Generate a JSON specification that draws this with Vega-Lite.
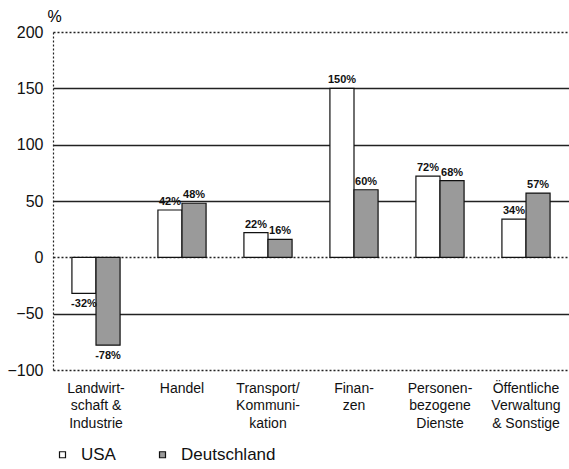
{
  "$schema": "https://vega.github.io/schema/vega-lite/v6.json",
  "width": 516,
  "height": 338,
  "autosize": "none",
  "padding": {"left": 53, "top": 32, "right": 0, "bottom": 99},
  "background": "white",
  "config": {
    "font": "Liberation Sans",
    "view": {"stroke": null}
  },
  "data": {
    "values": [
      {"sector": "Landwirt-|schaft &|Industrie", "land": "USA", "value": -32},
      {"sector": "Landwirt-|schaft &|Industrie", "land": "Deutschland", "value": -78},
      {"sector": "Handel", "land": "USA", "value": 42},
      {"sector": "Handel", "land": "Deutschland", "value": 48},
      {"sector": "Transport/|Kommuni-|kation", "land": "USA", "value": 22},
      {"sector": "Transport/|Kommuni-|kation", "land": "Deutschland", "value": 16},
      {"sector": "Finan-|zen", "land": "USA", "value": 150},
      {"sector": "Finan-|zen", "land": "Deutschland", "value": 60},
      {"sector": "Personen-|bezogene|Dienste", "land": "USA", "value": 72},
      {"sector": "Personen-|bezogene|Dienste", "land": "Deutschland", "value": 68},
      {"sector": "Öffentliche|Verwaltung|& Sonstige", "land": "USA", "value": 34},
      {"sector": "Öffentliche|Verwaltung|& Sonstige", "land": "Deutschland", "value": 57}
    ]
  },
  "transform": [{"calculate": "datum.value + '%'", "as": "lbl"}],
  "encoding": {
    "x": {
      "field": "sector", "type": "nominal", "sort": null,
      "scale": {"paddingInner": 0.44, "paddingOuter": 0.22},
      "axis": {
        "title": null, "domain": false, "ticks": false, "labelAngle": 0,
        "labelExpr": "split(datum.label, '|')",
        "labelFontSize": 14, "labelLineHeight": 17.5, "labelPadding": 11,
        "labelColor": "#111", "labelBaseline": "top"
      }
    },
    "xOffset": {"field": "land", "type": "nominal", "sort": ["USA", "Deutschland"]},
    "y": {
      "field": "value", "type": "quantitative",
      "scale": {"domain": [-100, 200], "nice": false, "zero": false},
      "axis": {
        "values": [-100, -50, 0, 50, 100, 150, 200],
        "title": "%", "titleAngle": 0, "titleAlign": "left", "titleBaseline": "bottom",
        "titleX": -6, "titleY": -8, "titleFontSize": 16, "titleFontWeight": "normal",
        "ticks": false, "labelPadding": 10, "labelFontSize": 16, "labelColor": "#111",
        "domainColor": "#222", "domainDash": [2, 2], "domainWidth": 1.2,
        "grid": true, "gridColor": "#222", "gridWidth": 1.3, "gridOpacity": 1,
        "gridDash": {"condition": {"test": "datum.value === 0 || datum.value === 200 || datum.value === -100", "value": [2, 2]}, "value": []}
      }
    }
  },
  "layer": [
    {
      "mark": {"type": "bar", "stroke": "#111", "strokeWidth": 1.2},
      "encoding": {
        "fill": {
          "field": "land", "type": "nominal",
          "scale": {"domain": ["USA", "Deutschland"], "range": ["#ffffff", "#9a9a9a"]},
          "legend": {
            "title": null, "orient": "none", "direction": "horizontal",
            "legendX": 1, "legendY": 414,
            "symbolType": "square", "symbolSize": 36, "symbolStrokeColor": "#111", "symbolStrokeWidth": 1.2,
            "labelFontSize": 17, "labelColor": "#111", "columnPadding": 38, "labelOffset": 10
          }
        }
      }
    },
    {
      "transform": [{"filter": "datum.value >= 0"}],
      "mark": {"type": "text", "baseline": "bottom", "dy": -3, "fontSize": 11, "fontWeight": "bold", "color": "#111"},
      "encoding": {"text": {"field": "lbl"}}
    },
    {
      "transform": [{"filter": "datum.value < 0"}],
      "mark": {"type": "text", "baseline": "top", "dy": 5, "fontSize": 11, "fontWeight": "bold", "color": "#111"},
      "encoding": {"text": {"field": "lbl"}}
    }
  ]
}
